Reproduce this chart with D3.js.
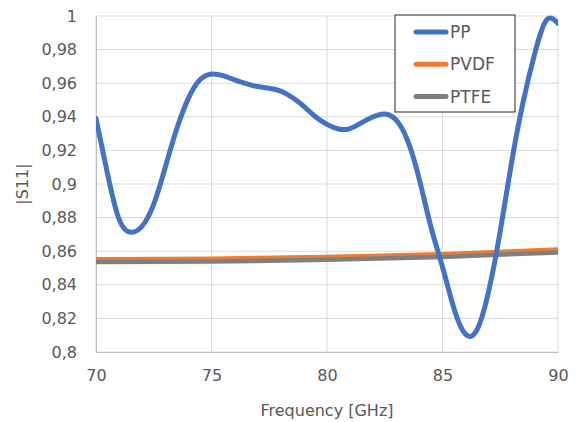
<!DOCTYPE html>
<html>
<head>
<meta charset="utf-8">
<script src="https://cdn.jsdelivr.net/npm/d3@7"></script>
<style>
  body { margin: 0; background: #fff; }
  svg { display: block; font-family: "DejaVu Sans", sans-serif; }
</style>
</head>
<body>
<div id="chart"></div>
<script>
// frequency (GHz) and |S11|, every 0.5 GHz
const ppFreq = [70, 70.5, 71, 71.5, 72, 72.5, 73, 73.5, 74, 74.5, 75, 75.5, 76, 76.5, 77, 77.5, 78, 78.5, 79, 79.5,
    80, 80.5, 81, 81.5, 82, 82.5, 83, 83.5, 84, 84.5, 85, 85.5, 86, 86.5, 87, 87.5, 88, 88.5, 89, 89.5, 90];
const ppS11 = [0.939, 0.906, 0.879, 0.8713, 0.875, 0.888, 0.910, 0.933, 0.951, 0.962, 0.9655, 0.9645, 0.962, 0.9598,
    0.9580, 0.9570, 0.9553, 0.9515, 0.9462, 0.940, 0.9355, 0.9327, 0.933, 0.9365, 0.940, 0.9417, 0.938, 0.9255, 0.9026,
    0.8744, 0.8506, 0.8258, 0.8105, 0.8134, 0.8363, 0.872, 0.9136, 0.9494, 0.978, 0.9975, 0.9956];
const flatFreq = [70, 75, 80, 85, 90];
const pvdfS11 = [0.8552, 0.8555, 0.8566, 0.8582, 0.8610];
const ptfeS11 = [0.8535, 0.8538, 0.8549, 0.8566, 0.8593];
const seriesNames = ["PP", "PVDF", "PTFE"];
const seriesColors = ["#4472C4", "#ED7D31", "#7F7F7F"];
const xTicks = [70, 75, 80, 85, 90];
const yTicks = [0.8, 0.82, 0.84, 0.86, 0.88, 0.9, 0.92, 0.94, 0.96, 0.98, 1];

const W = 577, H = 422;
const margin = { top: 16, right: 19, bottom: 70, left: 96 };
const width = W - margin.left - margin.right;
const height = H - margin.top - margin.bottom;
const textColor = "#595959";

const svg = d3.select("#chart").append("svg").attr("width", W).attr("height", H);
const g = svg.append("g").attr("transform", `translate(${margin.left}, ${margin.top})`);

const x = d3.scaleLinear().domain([70, 90]).range([0, width]);
const y = d3.scaleLinear().domain([0.8, 1]).range([height, 0]);
const fmt = d => String(d).replace(".", ",");

// gridlines
g.append("g").selectAll("line").data(yTicks).join("line")
    .attr("x1", 0).attr("x2", width)
    .attr("y1", d => y(d)).attr("y2", d => y(d))
    .attr("stroke", "#d9d9d9").attr("stroke-width", 1);
g.append("g").selectAll("line").data(xTicks).join("line")
    .attr("y1", 0).attr("y2", height)
    .attr("x1", d => x(d)).attr("x2", d => x(d))
    .attr("stroke", "#d9d9d9").attr("stroke-width", 1);

// axes
const xAxis = g.append("g").attr("transform", `translate(0, ${height})`)
    .call(d3.axisBottom(x).tickValues(xTicks).tickSize(0).tickPadding(18).tickFormat(d => d));
const yAxis = g.append("g")
    .call(d3.axisLeft(y).tickValues(yTicks).tickSize(0).tickPadding(19).tickFormat(fmt));
for (let ax of [xAxis, yAxis]) {
    ax.attr("font-family", null).attr("font-size", null);
    ax.select(".domain").attr("stroke", "#bfbfbf");
    ax.selectAll("text").attr("fill", textColor).style("font-size", "16px")
        .style("font-family", "'DejaVu Sans', sans-serif");
}

svg.append("text")
    .attr("x", margin.left + width / 2).attr("y", 416)
    .attr("text-anchor", "middle").attr("fill", textColor).style("font-size", "16px")
    .text("Frequency [GHz]");
svg.append("text")
    .attr("transform", `translate(28, ${margin.top + height / 2}) rotate(-90)`)
    .attr("text-anchor", "middle").attr("fill", textColor).style("font-size", "16px")
    .text("|S11|");

// series
g.append("clipPath").attr("id", "clip").append("rect")
    .attr("x", 0).attr("y", -3).attr("width", width).attr("height", height + 3);
const line = d3.line().x(d => x(d[0])).y(d => y(d[1])).curve(d3.curveNatural);
const series = [
    ppFreq.map((f, i) => [f, ppS11[i]]),
    flatFreq.map((f, i) => [f, pvdfS11[i]]),
    flatFreq.map((f, i) => [f, ptfeS11[i]])
];
const plot = g.append("g").attr("clip-path", "url(#clip)");
// PVDF first, then PTFE over it, PP on top
for (let i of [1, 2, 0]) {
    plot.append("path").datum(series[i])
        .attr("d", line)
        .attr("fill", "none")
        .attr("stroke", seriesColors[i])
        .attr("stroke-width", i === 0 ? 5 : 4.5)
        .attr("stroke-linecap", "round")
        .attr("stroke-linejoin", "round");
}

// legend
const legend = svg.append("g").attr("transform", "translate(395, 15)");
legend.append("rect").attr("width", 120).attr("height", 97)
    .attr("fill", "#fff").attr("stroke", "#262626").attr("stroke-width", 1);
seriesNames.forEach((name, i) => {
    const ly = 17 + i * 32.3;
    legend.append("line").attr("x1", 21).attr("x2", 51).attr("y1", ly).attr("y2", ly)
        .attr("stroke", seriesColors[i]).attr("stroke-width", 5).attr("stroke-linecap", "round");
    legend.append("text").attr("x", 55).attr("y", ly + 6)
        .attr("fill", textColor).style("font-size", "17px").text(name);
});
</script>
</body>
</html>
